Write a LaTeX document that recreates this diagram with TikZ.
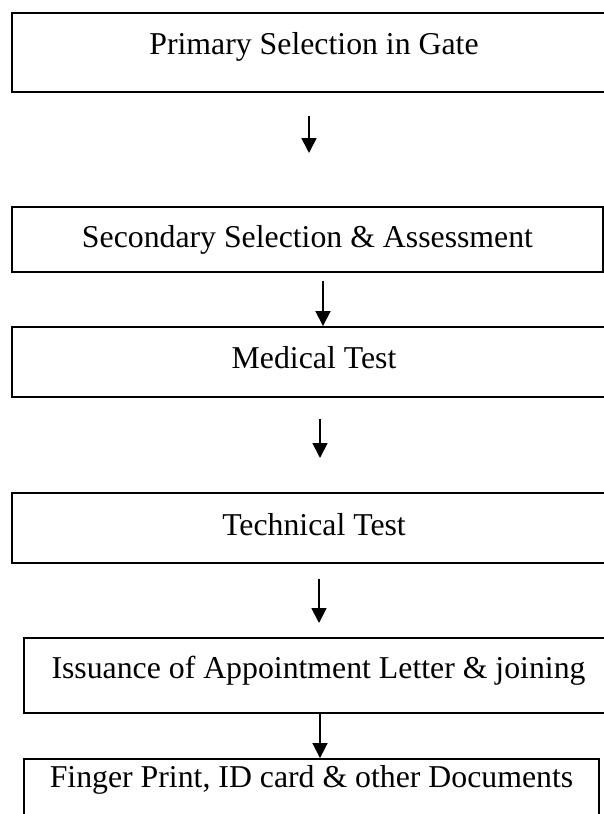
\documentclass[tikz,border=0pt]{standalone}
\usepackage{fontspec}
\setmainfont{Liberation Serif}
\usetikzlibrary{arrows.meta}
\begin{document}
\begin{tikzpicture}[x=1bp,y=-1bp,
  box/.style={draw=black, line width=1.9bp, inner sep=0pt,
    font=\fontsize{31.9}{38}\selectfont, text height=20bp},
  arr/.style={line width=1.8bp, -{Triangle[length=15bp,width=15bp]}}]
\useasboundingbox (0,0) rectangle (604,814);
\clip (0,0) rectangle (604,814);
\node[box, minimum width=604bp, minimum height=79bp, text depth=14.4bp] (b1) at (314,52.2) {Primary Selection in Gate};
\node[box, minimum width=591bp, minimum height=65bp, text depth=5bp] (b2) at (307.5,239.5) {Secondary Selection \& Assessment};
\node[box, minimum width=604bp, minimum height=70bp, text depth=8bp] (b3) at (314,362) {Medical Test};
\node[box, minimum width=604bp, minimum height=70bp, text depth=6bp] (b4) at (314,528) {Technical Test};
\node[box, minimum width=589bp, minimum height=75bp, text depth=15bp] (b5) at (318.5,675.5) {Issuance of Appointment Letter \& joining};
\node[box, minimum width=575bp, minimum height=71bp, text depth=35bp] (b6) at (311.5,794.5) {Finger Print, ID card \& other Documents};
\coordinate (a1s) at (309,116);
\coordinate (a1e) at (309,153);
\coordinate (a2s) at (323,281);
\coordinate (a3s) at (320,419);
\coordinate (a3e) at (320,458);
\coordinate (a4s) at (319,579);
\coordinate (a4e) at (319,623);
\coordinate (a5x) at (320,700);
\draw[arr] (a1s) -- (a1e);
\draw[arr] (a2s) -- (a2s |- b3.north);
\draw[arr] (a3s) -- (a3e);
\draw[arr] (a4s) -- (a4e);
\draw[arr] (a5x |- b5.south) -- (a5x |- b6.north);
\end{tikzpicture}
\end{document}
